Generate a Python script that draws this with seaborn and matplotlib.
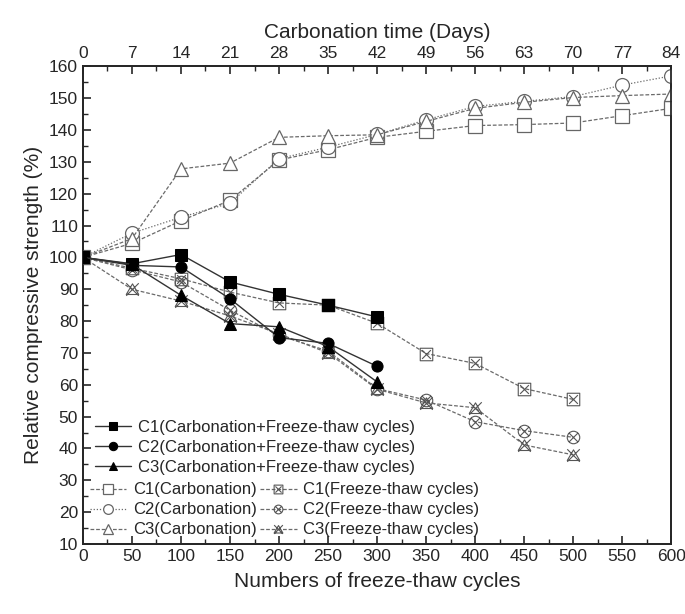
import numpy as np
import pandas as pd
import matplotlib
matplotlib.use("Agg")
import matplotlib.pyplot as plt
from matplotlib.path import Path
from matplotlib.ticker import MultipleLocator
import seaborn as sns

# ---- data ----
days = [0, 7, 14, 21, 28, 35, 42, 49, 56, 63, 70, 77, 84]
c1_carb = [100, 104.4, 111.5, 117.9, 130.6, 133.8, 137.7, 139.6, 141.4, 141.7, 142.2, 144.5, 146.8]
c2_carb = [100, 107.6, 112.6, 117.0, 131.0, 134.6, 138.6, 143.2, 147.4, 149.0, 150.5, 154.1, 157.0]
c3_carb = [100, 105.9, 127.8, 129.6, 137.7, 138.2, 138.5, 142.7, 146.8, 148.7, 150.2, 150.8, 151.3]

cyc_combo = [0, 50, 100, 150, 200, 250, 300]
c1_combo = [100, 98.0, 100.9, 92.3, 88.4, 85.0, 81.3]
c2_combo = [100, 97.5, 97.0, 87.0, 74.8, 73.0, 65.8]
c3_combo = [100, 97.8, 88.1, 79.2, 78.2, 72.0, 60.9]

cyc_ft = [0, 50, 100, 150, 200, 250, 300, 350, 400, 450, 500]
c1_ft = [100, 96.6, 93.3, 89.1, 85.7, 85.0, 79.3, 69.8, 66.7, 58.8, 55.4]
c2_ft = [100, 96.1, 92.3, 83.4, 75.5, 70.6, 58.8, 55.2, 48.4, 45.6, 43.5]
c3_ft = [100, 90.0, 86.3, 81.6, 76.0, 70.0, 58.6, 54.3, 52.8, 41.1, 38.0]

day_ticks = list(range(0, 85, 7))

# ---- style ----
sns.set_style("ticks")
plt.rcParams["font.family"] = ["Liberation Sans", "DejaVu Sans"]
plt.rcParams["xtick.direction"] = "in"
plt.rcParams["ytick.direction"] = "in"

x_path = Path([(-1, -1), (1, 1), (-1, 1), (1, -1)],
              [Path.MOVETO, Path.LINETO, Path.MOVETO, Path.LINETO])
x_small = Path([(-0.7, -0.7), (0.7, 0.7), (-0.7, 0.7), (0.7, -0.7)],
               [Path.MOVETO, Path.LINETO, Path.MOVETO, Path.LINETO])
sq = Path([(-1, -1), (1, -1), (1, 1), (-1, 1), (-1, -1)],
          [Path.MOVETO, Path.LINETO, Path.LINETO, Path.LINETO, Path.CLOSEPOLY])
circ = Path.unit_circle()
tri = Path([(0, 0.9), (-1, -0.8), (1, -0.8), (0, 0.9)],
           [Path.MOVETO, Path.LINETO, Path.LINETO, Path.CLOSEPOLY])
m_sqx = Path.make_compound_path(sq, x_small)
m_cx = Path.make_compound_path(circ, x_small)
m_tx = Path.make_compound_path(tri, x_path)

fig = plt.figure(figsize=(6.85, 6.14), dpi=100)
ax = fig.add_axes([0.121, 0.114, 0.859, 0.778])
ax2 = ax.twiny()

gray = "#6a6a6a"
dark = "#333333"
handles = []

# combo (filled)
for y, mk, lab in [(c1_combo, "s", "C1(Carbonation+Freeze-thaw cycles)"),
                   (c2_combo, "o", "C2(Carbonation+Freeze-thaw cycles)"),
                   (c3_combo, "^", "C3(Carbonation+Freeze-thaw cycles)")]:
    sns.lineplot(x=cyc_combo, y=y, ax=ax, marker=mk, color=dark, lw=1.0,
                 markersize=8, markerfacecolor="black", markeredgecolor="black",
                 label=lab, legend=False, zorder=4)
    handles.append(ax.lines[-1])

# freeze-thaw only
ft_h = []
for y, mk, lab in [(c1_ft, m_sqx, "C1(Freeze-thaw cycles)"),
                   (c2_ft, m_cx, "C2(Freeze-thaw cycles)"),
                   (c3_ft, m_tx, "C3(Freeze-thaw cycles)")]:
    sns.lineplot(x=cyc_ft, y=y, ax=ax, marker=mk, color=gray, lw=0.9,
                 linestyle=(0, (3, 1.5)), markersize=9,
                 markerfacecolor="none", markeredgecolor="#555555",
                 markeredgewidth=0.8, label=lab, legend=False, zorder=3)
    ft_h.append(ax.lines[-1])

# carbonation (top axis)
carb_h = []
for y, mk, ls, lab in [(c1_carb, "s", (0, (3, 1.5)), "C1(Carbonation)"),
                       (c2_carb, "o", (0, (1, 1.5)), "C2(Carbonation)"),
                       (c3_carb, "^", (0, (3, 1.5)), "C3(Carbonation)")]:
    sns.lineplot(x=days, y=y, ax=ax2, marker=mk, color=gray, lw=0.9,
                 linestyle=ls, markersize=10, markerfacecolor="white",
                 markeredgecolor="#666666", markeredgewidth=0.9,
                 label=lab, legend=False, zorder=3)
    carb_h.append(ax2.lines[-1])

ax.set_xlim(0, 600)
ax.set_ylim(10, 160)
ax2.set_xlim(0, 84)
ax.xaxis.set_major_locator(MultipleLocator(50))
ax.xaxis.set_minor_locator(MultipleLocator(25))
ax.yaxis.set_major_locator(MultipleLocator(10))
ax.yaxis.set_minor_locator(MultipleLocator(5))
ax2.set_xticks(day_ticks)
ax2.xaxis.set_minor_locator(MultipleLocator(3.5))

for a in (ax, ax2):
    for s in a.spines.values():
        s.set_linewidth(1.3)
        s.set_visible(True)
ax.tick_params(which="major", length=6, width=1.2, labelsize=12.5, direction="in")
ax.tick_params(which="minor", length=3.5, width=1.0, direction="in")
ax2.tick_params(which="major", length=6, width=1.2, labelsize=12.5, direction="in")
ax2.tick_params(which="minor", length=3.5, width=1.0, direction="in")

ax.set_xlabel("Numbers of freeze-thaw cycles", fontsize=15, labelpad=6)
ax.set_ylabel("Relative compressive strength (%)", fontsize=15, labelpad=4)
ax2.set_xlabel("Carbonation time (Days)", fontsize=15, labelpad=6)
ax.set_zorder(ax2.get_zorder() + 1)
ax.patch.set_visible(False)

leg1 = ax.legend(handles=handles, loc="lower left", bbox_to_anchor=(0.0, 0.121),
                 frameon=False, fontsize=12, handlelength=2.2, handletextpad=0.4,
                 labelspacing=0.3, borderaxespad=0.3, markerscale=0.75)
ax.add_artist(leg1)
leg2 = ax.legend(handles=carb_h + ft_h, loc="lower left", bbox_to_anchor=(0.0, 0.0),
                 ncol=2, frameon=False, fontsize=12, handlelength=2.2,
                 handletextpad=0.4, labelspacing=0.3, columnspacing=0.2,
                 borderaxespad=0.0, markerscale=0.7)

fig.savefig("out.png", dpi=100)
